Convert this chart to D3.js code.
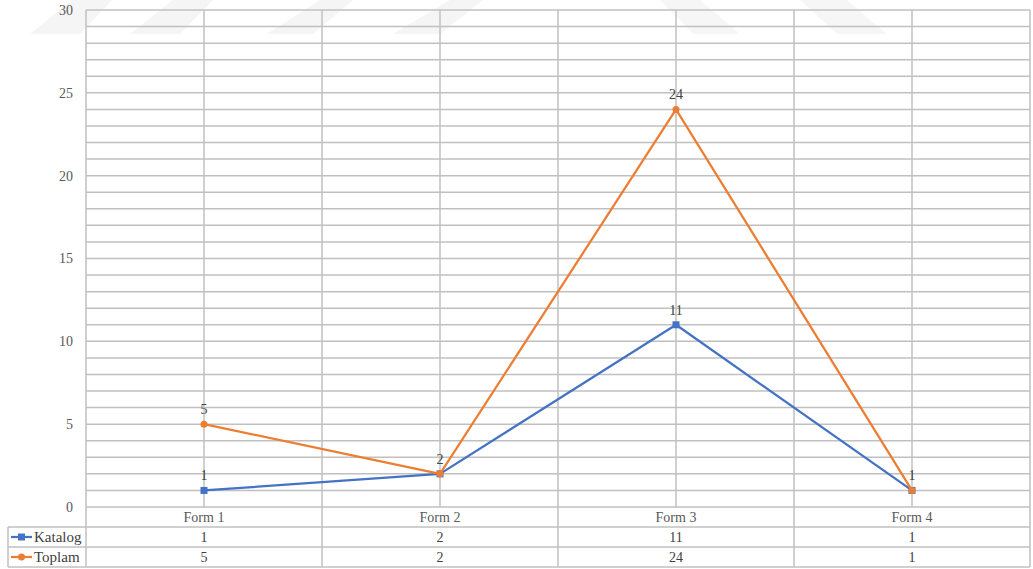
<!DOCTYPE html>
<html><head><meta charset="utf-8">
<script src="https://cdn.jsdelivr.net/npm/d3@7"></script>
<style>body{margin:0;background:#fff}svg{display:block}svg text{font-family:"Liberation Serif","Times New Roman",serif !important}</style>
</head><body>
<svg id="c" width="1033" height="569"></svg>
<script>
const categories = ["Form 1","Form 2","Form 3","Form 4"];
const katalog = [1,2,11,1];
const toplam = [5,2,24,1];
const seriesNames = ["Katalog","Toplam"];
const yTicks = [0,5,10,15,20,25,30];

const series = [
  {name: seriesNames[0], values: katalog, color: "#4472c4", marker: "square"},
  {name: seriesNames[1], values: toplam, color: "#ed7d31", marker: "circle"}
];

const svg = d3.select("#c");
const L = 86, R = 1030, T = 10, B = 507, rowH = 20, legL = 8;
const font = "Liberation Serif";
const gridC = "#c0c0c0";

// faint watermark shapes
const wm = svg.append("g").attr("fill", "#000").attr("opacity", 0.035);
[[30,80,72,112],[130,180,173,213],[267,313,320,353],[393,440,450,483]].forEach(([b0,b1,t0,t1])=>{
  wm.append("polygon").attr("points", `${b0},34 ${b1},34 ${t1},0 ${t0},0`);
});
[[660,700,693,740],[800,847,837,887]].forEach(([t0,t1,b0,b1])=>{
  wm.append("polygon").attr("points", `${t0},0 ${t1},0 ${b1},34 ${b0},34`);
});

const x = d3.scaleBand().domain(categories).range([L, R]).padding(0);
const y = d3.scaleLinear().domain([0, 30]).range([B, T]);
const cx = c => x(c) + x.bandwidth()/2;

const g = svg.append("g");
g.selectAll("line.h").data(d3.range(0, 31)).join("line")
  .attr("x1", L).attr("x2", R).attr("y1", d=>y(d)).attr("y2", d=>y(d))
  .attr("stroke", gridC).attr("stroke-width", 1.5);
g.selectAll("line.vc").data(categories).join("line")
  .attr("x1", d=>cx(d)).attr("x2", d=>cx(d)).attr("y1", T).attr("y2", B)
  .attr("stroke", gridC).attr("stroke-width", 1.5);
const bounds = categories.map(c=>x(c)).concat([R]);
g.selectAll("line.vb").data(bounds).join("line")
  .attr("x1", d=>d).attr("x2", d=>d).attr("y1", T).attr("y2", B + 3*rowH)
  .attr("stroke", gridC).attr("stroke-width", 1.5);
[1,2,3].forEach(i=>{
  g.append("line").attr("x1", legL).attr("x2", R)
    .attr("y1", B + i*rowH).attr("y2", B + i*rowH)
    .attr("stroke", gridC).attr("stroke-width", 1.5);
});
g.append("line").attr("x1", legL).attr("x2", legL).attr("y1", B+rowH).attr("y2", B+3*rowH)
  .attr("stroke", gridC).attr("stroke-width", 1.5);

const yAxis = d3.axisLeft(y).tickValues(yTicks).tickSize(0).tickPadding(13);
const ya = svg.append("g").attr("transform", `translate(${L},0)`).call(yAxis);
ya.attr("font-family", font).attr("font-size", 14);
ya.select(".domain").remove();
ya.selectAll("text").attr("font-family", font).attr("font-size", 14).attr("fill", "#595959");

svg.selectAll("text.cat").data(categories).join("text")
  .attr("x", d=>cx(d)).attr("y", B + rowH/2).attr("dy", "0.35em")
  .attr("text-anchor", "middle").attr("font-family", font).attr("font-size", 14)
  .attr("fill", "#595959").text(d=>d);

const line = d3.line().x((d,i)=>cx(categories[i])).y(d=>y(d));
series.forEach(s=>{
  svg.append("path").datum(s.values).attr("d", line)
    .attr("fill", "none").attr("stroke", s.color).attr("stroke-width", 2.25)
    .attr("stroke-linejoin", "round");
  if (s.marker === "square") {
    svg.selectAll(null).data(s.values).join("rect")
      .attr("x", (d,i)=>cx(categories[i]) - 3.5).attr("y", d=>y(d) - 3.5)
      .attr("width", 7).attr("height", 7).attr("fill", s.color);
  } else {
    svg.selectAll(null).data(s.values).join("circle")
      .attr("cx", (d,i)=>cx(categories[i])).attr("cy", d=>y(d)).attr("r", 3.5)
      .attr("fill", s.color);
  }
});
// data labels (one per distinct position)
const seen = new Set();
series.forEach(s=>{
  s.values.forEach((d,i)=>{
    const key = i + ":" + d;
    if (seen.has(key)) return;
    seen.add(key);
    svg.append("text")
      .attr("x", cx(categories[i])).attr("y", y(d) - 10)
      .attr("text-anchor", "middle").attr("font-family", font).attr("font-size", 14)
      .attr("fill", "#404040").text(d);
  });
});

series.forEach((s, r)=>{
  const yc = B + rowH*(r+1) + rowH/2;
  svg.append("line").attr("x1", 11).attr("x2", 32).attr("y1", yc).attr("y2", yc)
    .attr("stroke", s.color).attr("stroke-width", 2.25);
  if (s.marker === "square") {
    svg.append("rect").attr("x", 18).attr("y", yc-3.5).attr("width", 7).attr("height", 7).attr("fill", s.color);
  } else {
    svg.append("circle").attr("cx", 21.5).attr("cy", yc).attr("r", 3.5).attr("fill", s.color);
  }
  svg.append("text").attr("x", 34).attr("y", yc).attr("dy", "0.35em")
    .attr("font-family", font).attr("font-size", 15).attr("fill", "#404040").text(s.name);
  svg.selectAll(null).data(s.values).join("text")
    .attr("x", (d,i)=>cx(categories[i])).attr("y", yc).attr("dy", "0.35em")
    .attr("text-anchor", "middle").attr("font-family", font).attr("font-size", 14)
    .attr("fill", "#404040").text(d=>d);
});
</script>
</body></html>
